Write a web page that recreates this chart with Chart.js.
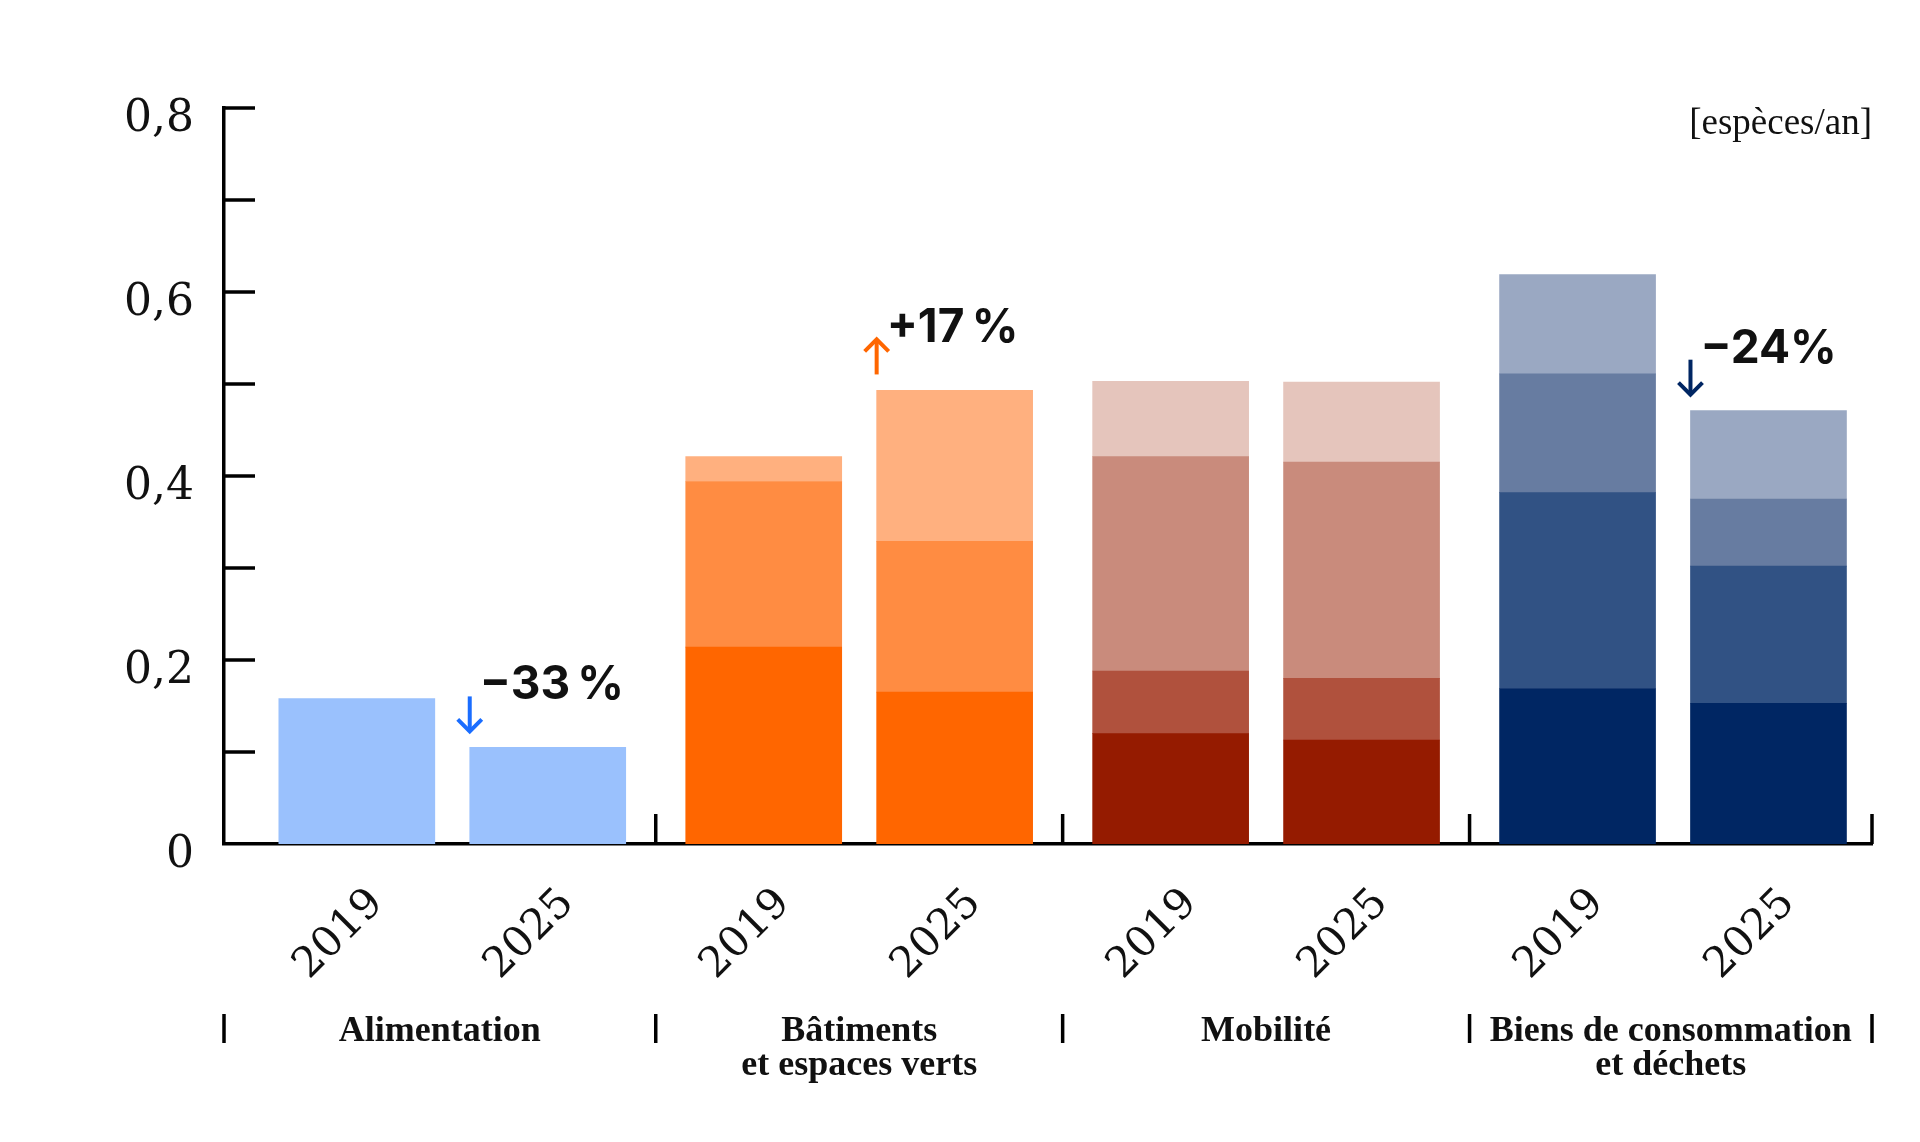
<!DOCTYPE html>
<html lang="fr">
<head>
<meta charset="utf-8">
<title>Espèces/an par domaine</title>
<script src="https://cdn.jsdelivr.net/npm/chart.js@4"></script>
<style>
    html, body { margin: 0; padding: 0; background: #fff; }
    #wrap { width: 1920px; height: 1142px; }
</style>
</head>
<body>
<div id="wrap"><canvas id="chart"></canvas></div>
<script>
// Catégories et années
const groupLabels = [
    ["Alimentation"],
    ["Bâtiments", "et espaces verts"],
    ["Mobilité"],
    ["Biens de consommation", "et déchets"],
];
const years = ["2019", "2025"];

// Valeurs par couche (du bas vers le haut), [2019, 2025]
const alimentation = [[0.158, 0.105]];
const batiments = [[0.214, 0.165], [0.180, 0.164], [0.027, 0.164]];
const mobilite = [[0.120, 0.113], [0.068, 0.067], [0.233, 0.235], [0.082, 0.087]];
const biens = [[0.169, 0.153], [0.213, 0.149], [0.129, 0.073], [0.108, 0.096]];

// Variations 2019 -> 2025
const changes = ["−33\u202F%", "+17\u202F%", null, "−24%"];

// Couleurs
const palette = [
    ["#9ac1fd"],
    ["#ff6600", "#ff8c42", "#ffb07f"],
    ["#951b00", "#b0513d", "#c98b7c", "#e5c5bc"],
    ["#002663", "#315284", "#677ca1", "#9aa8c2"],
];
const arrowColors = ["#1a6dff", "#ff6600", null, "#002663"];

const series = [alimentation, batiments, mobilite, biens];
const HALF = 0.2346; // demi-écart entre 2019 et 2025 dans un groupe
const barPos = (g, i) => g + 0.5 + (i ? HALF : -HALF);

const datasets = [];
series.forEach((layers, g) => {
    layers.forEach((vals, l) => {
        datasets.push({
            data: vals.map((v, i) => ({ x: barPos(g, i), y: v })),
            backgroundColor: palette[g][l],
            borderWidth: 0,
            barThickness: 156,
            grouped: false,
            stack: "all",
        });
    });
});

const tickPositions = [];
series.forEach((_, g) => years.forEach((_, i) => tickPositions.push(barPos(g, i))));

function line(ctx, x1, y1, x2, y2) {
    ctx.beginPath();
    ctx.moveTo(x1, y1);
    ctx.lineTo(x2, y2);
    ctx.stroke();
}

// Décor : petits traits, séparateurs, libellés de groupes, variations
const decor = {
    id: "decor",
    afterDraw(chart) {
        const { ctx, chartArea: a, scales: { x, y } } = chart;
        ctx.save();
        ctx.strokeStyle = "#000";
        ctx.lineWidth = 3.5;

        // graduations vers l'intérieur
        y.ticks.forEach((t) => {
            if (t.value <= 0) return;
            const py = y.getPixelForValue(t.value);
            line(ctx, a.left, py, a.left + 31, py);
        });

        const bounds = [a.left, x.getPixelForValue(1), x.getPixelForValue(2), x.getPixelForValue(3), a.right];

        // séparateurs sur l'axe
        bounds.slice(1).forEach((px) => line(ctx, px, a.bottom, px, a.bottom - 30));

        // séparateurs sous les années
        bounds.forEach((px) => line(ctx, px, a.bottom + 170, px, a.bottom + 199));

        // libellés de groupes
        ctx.fillStyle = "#111";
        ctx.font = 'bold 36px "Liberation Serif"';
        ctx.textAlign = "center";
        ctx.textBaseline = "alphabetic";
        groupLabels.forEach((lines, g) => {
            const cx = (bounds[g] + bounds[g + 1]) / 2;
            lines.forEach((t, k) => ctx.fillText(t, cx, a.bottom + 197 + k * 34));
        });

        // unité
        ctx.font = '37px "Liberation Serif"';
        ctx.textAlign = "right";
        ctx.fillText("[espèces/an]", a.right, a.top + 26);

        // variations
        changes.forEach((txt, g) => {
            if (!txt) return;
            const total = series[g].reduce((s, layer) => s + layer[1], 0);
            const top = y.getPixelForValue(total);
            const left = x.getPixelForValue(barPos(g, 1)) - 78;
            const y1 = top - 51;
            const y2 = top - 16;
            ctx.strokeStyle = arrowColors[g];
            ctx.lineWidth = 4;
            line(ctx, left, y1, left, y2);
            ctx.beginPath();
            if (txt.startsWith("+")) {
                ctx.moveTo(left - 12, y1 + 12);
                ctx.lineTo(left, y1);
                ctx.lineTo(left + 12, y1 + 12);
            } else {
                ctx.moveTo(left - 12, y2 - 12);
                ctx.lineTo(left, y2);
                ctx.lineTo(left + 12, y2 - 12);
            }
            ctx.stroke();

            ctx.fillStyle = "#111";
            ctx.font = 'bold 46px "Inter"';
            ctx.textAlign = "left";
            ctx.fillText(txt, left + 10, top - 48);
        });

        ctx.restore();
    },
};

new Chart(document.getElementById("chart"), {
    type: "bar",
    data: { datasets },
    plugins: [decor],
    options: {
        responsive: true,
        maintainAspectRatio: false,
        animation: false,
        layout: { padding: { top: 108, right: 48, left: 0, bottom: 0 } },
        plugins: { legend: { display: false }, tooltip: { enabled: false } },
        scales: {
            x: {
                type: "linear",
                min: -0.061,
                max: 3.989,
                offset: false,
                z: 1,
                grid: { display: false },
                border: { display: true, color: "#000", width: 3.5 },
                afterBuildTicks: (s) => {
                    s.ticks = tickPositions.map((v) => ({ value: v }));
                },
                afterFit: (s) => {
                    s.height = 298;
                },
                ticks: {
                    autoSkip: false,
                    minRotation: 45,
                    maxRotation: 45,
                    padding: 27,
                    labelOffset: 20,
                    color: "#111",
                    font: { family: "DejaVu Serif", size: 42 },
                    callback: (v, i) => years[i % 2],
                },
            },
            y: {
                min: 0,
                max: 0.8,
                stacked: true,
                grid: { display: false },
                border: { display: true, color: "#000", width: 3.5 },
                afterFit: (s) => {
                    s.width = 224;
                },
                ticks: {
                    stepSize: 0.1,
                    padding: 22,
                    labelOffset: 12,
                    color: "#111",
                    font: { family: "DejaVu Serif", size: 44 },
                    callback: (v) => {
                        const k = Math.round(v * 10);
                        if (k % 2) return "";
                        return k === 0 ? "0" : (k / 10).toFixed(1).replace(".", ",");
                    },
                },
            },
        },
    },
});
</script>
</body>
</html>
